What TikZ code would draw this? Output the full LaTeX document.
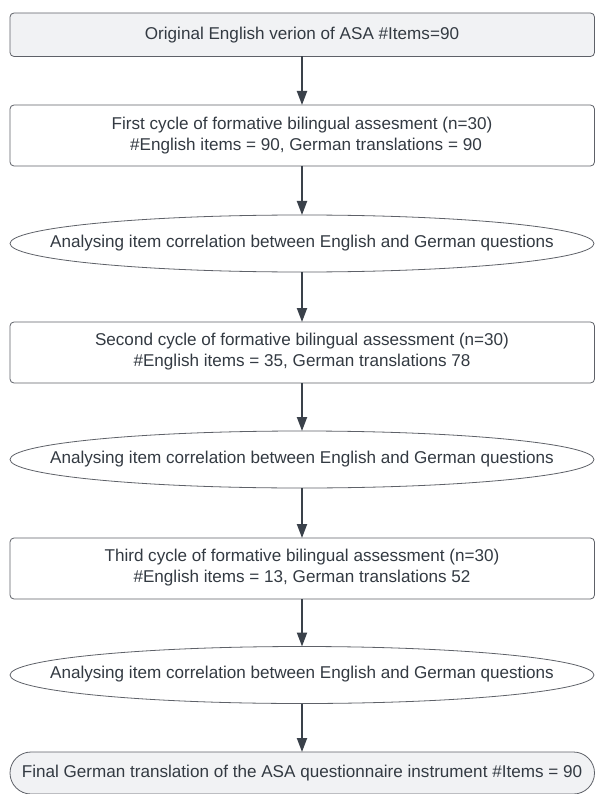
\documentclass[tikz,border=0pt]{standalone}
\usepackage{fontspec}
\setmainfont{Liberation Sans}
\usetikzlibrary{shapes.geometric,arrows.meta}
\definecolor{txt}{HTML}{333A42}
\definecolor{edge}{HTML}{5E6168}
\definecolor{fillg}{HTML}{F1F2F4}
\definecolor{arr}{HTML}{3A414A}
\tikzset{
  every node/.style={text=txt,font=\fontsize{17.1}{21}\selectfont,align=center,inner sep=0pt},
  boxstyle/.style={draw=edge,line width=0.8pt,rounded corners=4pt},
  ellstyle/.style={draw=edge,line width=0.8pt},
  flowarrow/.style={draw=arr,line width=2pt,-{Triangle[length=14pt,width=10pt]}}
}
\begin{document}
\begin{tikzpicture}[x=1pt,y=-1pt]
\useasboundingbox (0,0) rectangle (595,794);
% shapes
\draw[boxstyle,fill=fillg] (10,13) rectangle (594.5,56.5);
\node (b1) at (302,35) {Original English verion of ASA \#Items=90};
\coordinate (b1s) at (302,56.5);

\draw[boxstyle,fill=white] (10,105) rectangle (594.5,166);
\node (b2) at (302,136) {First cycle of formative bilingual assesment (n=30)\\ \hspace*{8pt}\#English items = 90, German translations = 90};
\coordinate (b2n) at (302,105);
\coordinate (b2s) at (302,166);

\draw[ellstyle,fill=white] (302,243.5) ellipse [x radius=292, y radius=28.5];
\node (e1) at (302,243) {Analysing item correlation between English and German questions};
\coordinate (e1n) at (302,215);
\coordinate (e1s) at (302,272);

\draw[boxstyle,fill=white] (10,322) rectangle (594.5,383);
\node (b3) at (302,352) {Second cycle of formative bilingual assessment (n=30)\\ \#English items = 35, German translations 78};
\coordinate (b3n) at (302,322);
\coordinate (b3s) at (302,383);

\draw[ellstyle,fill=white] (302,459.5) ellipse [x radius=292, y radius=28.5];
\node (e2) at (302,459) {Analysing item correlation between English and German questions};
\coordinate (e2n) at (302,431);
\coordinate (e2s) at (302,488);

\draw[boxstyle,fill=white] (10,538) rectangle (594.5,599);
\node (b4) at (302,568) {Third cycle of formative bilingual assessment (n=30)\\ \#English items = 13, German translations 52};
\coordinate (b4n) at (302,538);
\coordinate (b4s) at (302,599);

\draw[ellstyle,fill=white] (302,675) ellipse [x radius=292, y radius=28.5];
\node (e3) at (302,674.5) {Analysing item correlation between English and German questions};
\coordinate (e3n) at (302,646.5);
\coordinate (e3s) at (302,703.5);

\draw[boxstyle,fill=fillg,rounded corners=21pt] (10,752) rectangle (594.5,794);
\node (f) at (302,773) {Final German translation of the ASA questionnaire instrument \#Items = 90};
\coordinate (fn) at (302,752);

% arrows
\draw[flowarrow] (b1s) -- (b2n);
\draw[flowarrow] (b2s) -- (e1n);
\draw[flowarrow] (e1s) -- (b3n);
\draw[flowarrow] (b3s) -- (e2n);
\draw[flowarrow] (e2s) -- (b4n);
\draw[flowarrow] (b4s) -- (e3n);
\draw[flowarrow] (e3s) -- (fn);
\end{tikzpicture}
\end{document}
